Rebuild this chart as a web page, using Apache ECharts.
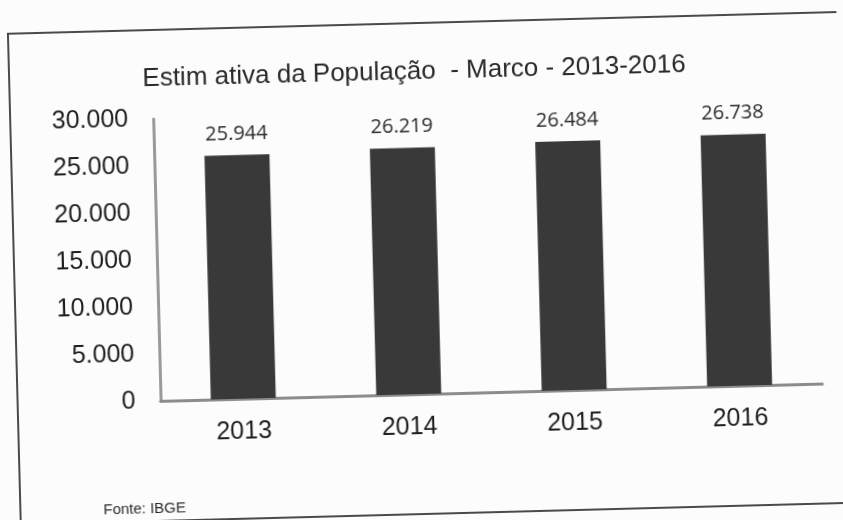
<!DOCTYPE html>
<html>
<head>
<meta charset="utf-8">
<script src="https://cdn.jsdelivr.net/npm/echarts@6/dist/echarts.min.js"></script>
<style>
  html, body { margin: 0; padding: 0; background: #fcfcfc; overflow: hidden; }
  /* the source is a slightly tilted scan */
  #chart { width: 843px; height: 520px; transform: rotate(-1.5deg); }
</style>
</head>
<body>
<div id="chart"></div>
<script>
const years = ['2013', '2014', '2015', '2016']
const population = [25944, 26219, 26484, 26738]
const yTicks = [0, 5000, 10000, 15000, 20000, 25000, 30000]

// pt-BR style thousands separator
const fmt = v => String(v).replace(/\B(?=(\d{3})+(?!\d))/g, '.')

const chart = echarts.init(document.getElementById('chart'))
chart.setOption({
  backgroundColor: '#fcfcfc',
  animation: false,
  title: {
    text: 'Estim ativa da População  - Marco - 2013-2016',
    left: 414,
    textAlign: 'center',
    top: 54,
    textStyle: { fontFamily: 'Liberation Sans', fontSize: 26, fontWeight: 'normal', color: '#2a2a2a' }
  },
  grid: { left: 157, right: 24, top: 112, bottom: 126 },
  xAxis: {
    type: 'category',
    data: years,
    axisLine: { lineStyle: { color: '#8c8c8c', width: 3 } },
    axisTick: { show: false },
    axisLabel: { fontFamily: 'Liberation Sans', fontSize: 25, color: '#1e1e1e', margin: 21 }
  },
  yAxis: {
    type: 'value',
    min: yTicks[0],
    max: yTicks[yTicks.length - 1],
    interval: 5000,
    axisLine: { show: true, lineStyle: { color: '#9a9a9a', width: 3 } },
    axisTick: { show: false },
    splitLine: { show: false },
    axisLabel: { fontFamily: 'Liberation Sans', fontSize: 25, color: '#1e1e1e', margin: 25, formatter: fmt }
  },
  series: [{
    type: 'bar',
    data: population,
    barWidth: 65,
    itemStyle: { color: '#393939' },
    label: {
      show: true,
      position: 'top',
      distance: 11,
      fontFamily: 'Open Sans',
      fontSize: 20,
      color: '#2a2a2a',
      formatter: p => fmt(p.value)
    }
  }],
  graphic: [
    {
      type: 'rect',
      shape: { x: 14, y: 23, width: 840, height: 491 },
      style: { fill: 'none', stroke: '#4a4a4a', lineWidth: 2 },
      silent: true
    },
    {
      type: 'text',
      left: 97,
      top: 494,
      style: { text: 'Fonte: IBGE', fontFamily: 'Liberation Sans', fontSize: 15, fill: '#2a2a2a' }
    }
  ]
})
</script>
</body>
</html>
